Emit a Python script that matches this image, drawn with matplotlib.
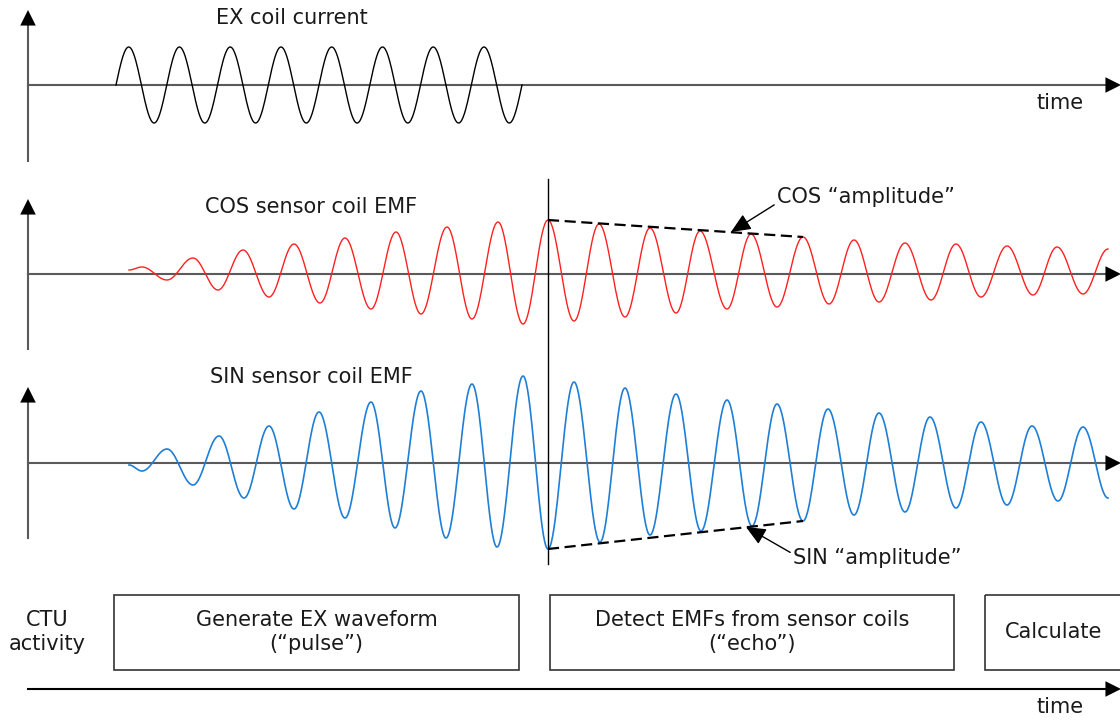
import numpy as np
import matplotlib
matplotlib.use("Agg")
import matplotlib.pyplot as plt
from matplotlib.patches import Rectangle

# extremum times (x, px) and signed amplitudes (px above the zero line)
ex_t = [116, 128.7, 154.1, 179.4, 204.8, 230.2, 255.6, 281.0, 306.3, 331.7,
        357.1, 382.5, 407.8, 433.2, 458.6, 484.0, 509.3, 522.0]
ex_a = [0, 38, -38, 38, -38, 38, -38, 38, -38, 38, -38, 38, -38, 38, -38, 38, -38, 0]

cos_t = [129, 142, 167, 193, 218, 243, 269, 294, 320, 345, 371, 396, 421, 447, 472,
         498, 523, 548, 574, 599, 625, 650, 676, 700, 727, 751, 777, 803, 829, 854,
         879, 905, 931, 956, 981, 1007, 1033, 1057, 1083, 1108]
cos_a = [4, 7, -6, 16, -16, 24, -23, 30, -29, 36, -35, 42, -40, 47, -45,
         52, -50, 54, -47, 50, -43, 46, -39, 43, -35, 40, -33, 37, -30, 34,
         -28, 31, -26, 30, -23, 28, -21, 27, -20, 25]

sin_t = [129, 142, 167, 193, 219, 244, 269, 294, 319, 345, 371, 395, 421, 446, 472,
         497, 523, 548, 574, 600, 625, 650, 676, 701, 727, 752, 777, 803, 828, 854,
         879, 905, 930, 956, 981, 1007, 1032, 1058, 1083, 1108]
sin_a = [-2, -8, 14, -22, 27, -35, 37, -46, 51, -55, 61, -65, 72, -75, 79,
         -84, 87, -86, 81, -79, 75, -72, 69, -68, 63, -63, 59, -58, 54, -52,
         50, -49, 46, -45, 41, -42, 37, -38, 36, -35]

panel_titles = ["EX coil current", "COS sensor coil EMF", "SIN sensor coil EMF"]
activities = ["Generate EX waveform\n(\u201cpulse\u201d)",
              "Detect EMFs from sensor coils\n(\u201cecho\u201d)",
              "Calculate"]
act_start = [114, 550, 985]
act_end = [519, 954, 1140]


def wave(t, a, n=40):
    xs, ys = [], []
    for i in range(len(t) - 1):
        s = np.linspace(0, 1, n)
        a0, a1 = a[i], a[i + 1]
        if a0 == 0:
            y = a1 * np.sin(s * np.pi / 2)
        elif a1 == 0:
            y = a0 * np.cos(s * np.pi / 2)
        else:
            y = a0 + (a1 - a0) * (1 - np.cos(np.pi * s)) / 2
        xs.append(t[i] + (t[i + 1] - t[i]) * s)
        ys.append(y)
    return np.concatenate(xs), np.concatenate(ys)


def head(ax, tip, tail):
    ax.annotate("", xy=tip, xytext=tail, annotation_clip=False,
                arrowprops=dict(arrowstyle="-|>", color="black", lw=0,
                                mutation_scale=28, shrinkA=0, shrinkB=0))


fig = plt.figure(figsize=(11.2, 7.2), dpi=100)
ax = fig.add_axes([0, 0, 1, 1])
ax.set_xlim(0, 1120)
ax.set_ylim(720, 0)
ax.axis("off")

axis_col = "#5a5a5a"
fs = 15
txt = "#1a1a1a"

bases = [85, 274, 463]
v_top = [10, 199, 387]
v_bot = [161, 349, 538]
title_xy = [(292, 18), (311, 207), (311, 377)]

for b, top, bot, title, (tx, ty) in zip(bases, v_top, v_bot, panel_titles, title_xy):
    ax.plot([28, 28], [bot, top + 12], color=axis_col, lw=1.5)
    head(ax, (28, top), (28, top + 16))
    ax.plot([28, 1110], [b, b], color=axis_col, lw=1.5)
    head(ax, (1121, b), (1105, b))
    ax.text(tx, ty, title, ha="center", va="center", fontsize=fs, color=txt)

ax.text(1060, 103, "time", ha="center", va="center", fontsize=fs, color=txt)

x, y = wave(ex_t, ex_a)
ax.plot(x, bases[0] - y, color="black", lw=1)
x, y = wave(cos_t, cos_a)
ax.plot(x, bases[1] - y, color="#ff2020", lw=1)
x, y = wave(sin_t, sin_a)
ax.plot(x, bases[2] - y, color="#1f7fd6", lw=1.2)

# start of echo window
ax.plot([548, 548], [179, 564], color="black", lw=1)

# envelopes
i0, i1 = cos_t.index(548), cos_t.index(803)
ax.plot([cos_t[i0], cos_t[i1]], [bases[1] - cos_a[i0], bases[1] - cos_a[i1]],
        color="black", lw=1.6, ls=(0, (5, 2.5)))
i0, i1 = sin_t.index(548), sin_t.index(803)
ax.plot([sin_t[i0], sin_t[i1]], [bases[2] - sin_a[i0], bases[2] - sin_a[i1]],
        color="black", lw=1.6, ls=(0, (5, 2.5)))

ax.annotate("COS \u201camplitude\u201d", xy=(731, 232), xytext=(777, 197),
            ha="left", va="center", fontsize=fs, color=txt,
            arrowprops=dict(arrowstyle="-|>,head_length=0.8,head_width=0.35",
                            color="black", lw=1, shrinkA=0, shrinkB=0,
                            relpos=(0.01, 0.25)))
ax.annotate("SIN \u201camplitude\u201d", xy=(746, 527), xytext=(793, 558),
            ha="left", va="center", fontsize=fs, color=txt,
            arrowprops=dict(arrowstyle="-|>,head_length=0.8,head_width=0.35",
                            color="black", lw=1, shrinkA=0, shrinkB=0,
                            relpos=(0.0, 0.7)))

# CTU activity row
ax.text(47, 632, "CTU\nactivity", ha="center", va="center", fontsize=fs,
        color=txt, linespacing=1.3)
for s, e, label in zip(act_start, act_end, activities):
    ax.add_patch(Rectangle((s, 595), e - s, 75, fill=False, edgecolor="#333333", lw=1.2))
    ax.text((s + min(e, 1122)) / 2, 632, label, ha="center", va="center",
            fontsize=fs, color=txt, linespacing=1.3)

ax.plot([28, 1110], [689, 689], color="black", lw=1.5)
head(ax, (1121, 689), (1105, 689))
ax.text(1060, 707, "time", ha="center", va="center", fontsize=fs, color=txt)

fig.savefig("out.png", dpi=100)
